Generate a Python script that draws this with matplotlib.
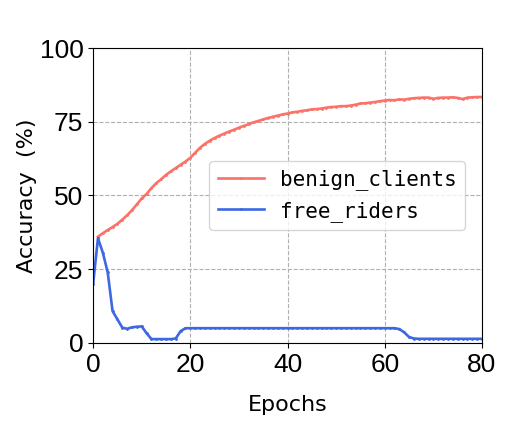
import matplotlib.pyplot as plt
import numpy as np

# accuracy per epoch
benign_epochs = np.arange(1, 81)
benign_acc = [
    36.0, 37.2, 38.3, 39.3, 40.4, 41.8, 43.3, 45.0, 47.0, 49.0,
    50.5, 52.5, 54.2, 55.5, 57.0, 58.2, 59.3, 60.4, 61.5, 62.8,
    64.5, 66.2, 67.5, 68.6, 69.5, 70.3, 71.0, 71.7, 72.3, 73.0,
    73.6, 74.2, 74.8, 75.3, 75.8, 76.3, 76.7, 77.1, 77.5, 77.8,
    78.2, 78.4, 78.7, 78.9, 79.2, 79.3, 79.5, 79.8, 80.0, 80.1,
    80.3, 80.3, 80.5, 80.8, 81.2, 81.3, 81.5, 81.7, 82.0, 82.2,
    82.4, 82.3, 82.6, 82.5, 82.8, 83.0, 83.1, 83.2, 83.2, 82.8,
    83.1, 83.2, 83.2, 83.3, 83.1, 82.7, 83.2, 83.3, 83.4, 83.4,
]
free_epochs = np.arange(0, 81)
free_acc = [
    20.0, 35.5, 30.6, 24.0, 10.8, 8.0, 5.2, 4.8, 5.3, 5.5,
    5.6, 3.3, 1.3, 1.3, 1.3, 1.3, 1.3, 1.5, 4.0, 5.0,
    5.0, 5.0, 5.0, 5.0, 5.0, 5.0, 5.0, 5.0, 5.0, 5.0,
    5.0, 5.0, 5.0, 5.0, 5.0, 5.0, 5.0, 5.0, 5.0, 5.0,
    5.0, 5.0, 5.0, 5.0, 5.0, 5.0, 5.0, 5.0, 5.0, 5.0,
    5.0, 5.0, 5.0, 5.0, 5.0, 5.0, 5.0, 5.0, 5.0, 5.0,
    5.0, 5.0, 5.0, 4.7, 3.6, 2.0, 1.5, 1.4, 1.4, 1.4,
    1.4, 1.4, 1.4, 1.4, 1.4, 1.4, 1.4, 1.4, 1.4, 1.4,
    1.4,
]
yticks = [0, 25, 50, 75, 100]
xticks = [0, 20, 40, 60, 80]

fig = plt.figure(figsize=(5.32, 4.33), dpi=100)
ax = fig.add_axes([0.175, 0.208, 0.731, 0.681])

ax.plot(benign_epochs, benign_acc, color='#FA7268', linewidth=1.9,
        marker='.', markersize=2, label='benign_clients')
ax.plot(free_epochs, free_acc, color='#3D67E3', linewidth=1.9,
        marker='.', markersize=2, label='free_riders')

ax.set_xlim(0, 80)
ax.set_ylim(0, 100)
ax.set_xticks(xticks)
ax.set_yticks(yticks)
ax.grid(True, linestyle='--', color='#b0b0b0', linewidth=0.8)

for lbl in ax.get_xticklabels() + ax.get_yticklabels():
    lbl.set_fontfamily('Liberation Sans')
    lbl.set_fontsize(19)

ax.set_xlabel('Epochs', fontsize=16, family='DejaVu Sans', labelpad=13)
ax.set_ylabel('Accuracy  (%)', fontsize=16, family='DejaVu Sans', labelpad=2)

ax.legend(loc='center right', prop={'family': 'DejaVu Sans Mono', 'size': 15},
          borderaxespad=0.8, handlelength=2.2)

fig.savefig('out.png', dpi=100)
